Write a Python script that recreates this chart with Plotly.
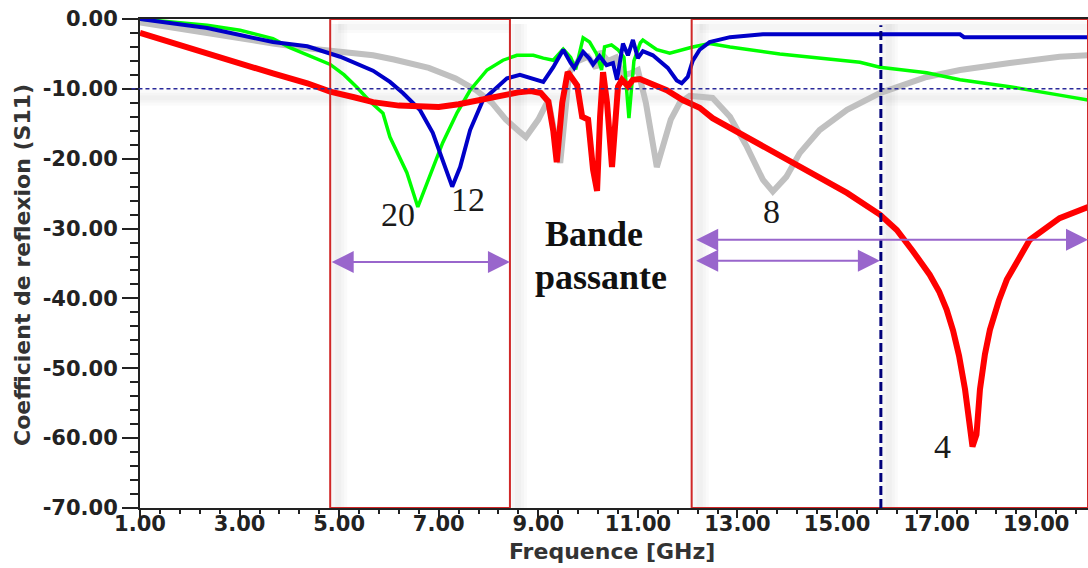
import plotly.graph_objects as go

# ---------------- data ----------------
red_f = [1.0, 1.67, 2.35, 3.01, 3.67, 4.36, 4.82, 5.3, 5.68, 6.2, 6.6, 7.0, 7.4, 7.8, 8.2, 8.6, 8.85,
         9.05, 9.2, 9.3, 9.37, 9.48, 9.59, 9.78, 9.88, 10.0, 10.1, 10.18, 10.24, 10.3, 10.38, 10.48,
         10.6, 10.68, 10.8, 10.9, 11.04, 11.3, 11.58, 11.9, 12.24, 12.5, 13.19, 13.85, 14.51, 15.2,
         15.86, 16.2, 16.52, 16.86, 17.05, 17.2, 17.33, 17.45, 17.57, 17.66, 17.72, 17.8, 17.87,
         17.97, 18.07, 18.25, 18.41, 18.87, 19.47, 20.04]
red_db = [-2.0, -3.5, -4.9, -6.3, -7.8, -9.2, -10.4, -11.2, -11.9, -12.4, -12.6, -12.6, -12.2, -11.6,
          -11.0, -10.5, -10.3, -10.6, -11.8, -16.0, -20.5, -12.0, -7.6, -9.5, -14.0, -14.4, -21.6,
          -24.6, -14.0, -7.6, -12.0, -21.2, -9.7, -8.7, -9.6, -8.7, -8.6, -9.4, -10.2, -11.6, -12.7,
          -14.2, -16.9, -19.7, -22.3, -24.9, -28.0, -30.2, -33.2, -36.6, -39.0, -41.6, -44.6, -48.2,
          -53.0, -59.0, -61.2, -59.5, -53.0, -48.0, -44.5, -40.3, -37.3, -31.6, -28.5, -26.9]

green_f = [1.0, 1.67, 2.35, 3.01, 3.67, 4.01, 4.62, 4.82, 5.1, 5.36, 5.62, 5.88, 6.02, 6.36, 6.58,
           6.82, 7.08, 7.37, 7.63, 7.97, 8.29, 8.57, 8.9, 9.1, 9.3, 9.5, 9.65, 9.75, 9.9, 10.03,
           10.17, 10.27, 10.33, 10.47, 10.6, 10.72, 10.82, 10.92, 11.05, 11.1, 11.38, 11.64, 11.9,
           12.1, 12.44, 12.85, 13.85, 14.86, 15.46, 15.86, 16.8, 17.47, 18.47, 19.47, 20.04]
green_db = [0.0, -0.4, -0.9, -1.6, -2.8, -4.1, -6.0, -6.5, -8.0, -9.8, -11.8, -13.5, -16.9, -22.0,
            -26.9, -22.6, -17.7, -13.4, -10.2, -7.3, -5.9, -5.2, -5.2, -5.6, -5.9, -4.3, -5.5, -7.2,
            -2.7, -3.3, -5.0, -7.3, -4.0, -3.7, -4.4, -5.5, -14.2, -6.0, -3.4, -3.0, -4.4, -4.9,
            -4.4, -4.0, -3.5, -4.0, -5.0, -5.8, -6.2, -6.9, -7.7, -8.7, -9.7, -10.9, -11.6]

blue_f = [1.0, 1.67, 2.35, 3.01, 3.67, 4.36, 5.02, 5.68, 6.02, 6.28, 6.62, 6.88, 7.08, 7.27, 7.43,
          7.63, 7.89, 8.17, 8.37, 8.63, 8.9, 9.1, 9.3, 9.5, 9.65, 9.72, 9.9, 10.03, 10.1, 10.23,
          10.37, 10.5, 10.58, 10.7, 10.8, 10.9, 11.0, 11.1, 11.3, 11.6, 11.78, 11.88, 12.0, 12.1,
          12.24, 12.44, 12.85, 13.51, 17.47, 17.55, 20.04]
blue_db = [0.0, -0.6, -1.3, -2.3, -3.3, -3.9, -5.4, -7.4, -9.0, -10.6, -13.0, -16.3, -20.2, -24.0,
           -21.2, -15.9, -11.6, -9.7, -8.5, -8.0, -8.5, -9.0, -6.9, -4.4, -6.3, -7.0, -4.7, -5.7,
           -6.5, -5.3, -6.6, -6.3, -8.7, -3.5, -5.2, -3.0, -5.6, -4.6, -5.2, -7.0, -8.8, -9.2, -8.3,
           -6.0, -4.4, -3.3, -2.6, -2.2, -2.2, -2.6, -2.6]

gray_f = [1.0, 1.67, 2.35, 3.01, 3.67, 4.36, 5.02, 5.68, 6.1, 6.8, 7.34, 7.75, 8.07, 8.35, 8.6,
          8.75, 9.0, 9.2, 9.44, 9.62, 9.8, 10.0, 10.16, 10.24, 10.4, 10.56, 10.7, 10.85, 11.0,
          11.16, 11.38, 11.66, 11.84, 12.04, 12.5, 12.85, 13.19, 13.51, 13.71, 13.98, 14.25, 14.65,
          15.2, 15.46, 15.86, 16.8, 17.47, 18.47, 19.47, 20.04]
gray_db = [-0.5, -1.3, -2.0, -2.7, -3.5, -4.2, -4.7, -5.2, -5.8, -7.0, -8.5, -10.2, -12.0, -14.4,
           -16.0, -16.9, -14.4, -11.6, -20.6, -7.7, -6.0, -5.4, -7.0, -4.7, -6.0, -5.5, -8.0, -7.8,
           -7.3, -12.0, -21.2, -14.4, -12.0, -11.0, -11.3, -14.0, -18.3, -23.0, -24.7, -22.6,
           -19.2, -15.9, -13.0, -12.0, -10.6, -8.3, -7.3, -6.3, -5.4, -5.2]

# axis ticks
x_tickvals = [1, 3, 5, 7, 9, 11, 13, 15, 17, 19]
x_ticktext = ["1.00", "3.00", "5.00", "7.00", "9.00", "11.00", "13.00", "15.00", "17.00", "19.00"]
y_tickvals = [0, -10, -20, -30, -40, -50, -60, -70]
y_ticktext = ["0.00", "-10.00", "-20.00", "-30.00", "-40.00", "-50.00", "-60.00", "-70.00"]

# zones (red rectangles), markers and labels
zone_f0 = [4.82, 12.08]
zone_f1 = [8.43, 20.04]
ref_level = -10.0
cutoff_f = 15.88

arrow_f0 = [4.82, 12.14, 12.14]
arrow_f1 = [8.43, 20.04, 15.86]
arrow_db = [-34.8, -31.6, -34.6]

num_labels = ["20", "12", "8", "4"]
num_f = [6.18, 7.59, 13.69, 17.12]
num_db = [-28.0, -25.9, -27.6, -61.2]

band_labels = ["Bande", "passante"]
band_f = [10.12, 10.26]
band_db = [-30.8, -36.9]

x_range = [1.0, 20.04]
y_range = [-70.0, 0.0]

# ---------------- figure ----------------
fig = go.Figure()
fig.add_trace(go.Scatter(x=gray_f, y=gray_db, mode="lines",
                         line=dict(color="#C0C0C0", width=6), name="8"))
fig.add_trace(go.Scatter(x=green_f, y=green_db, mode="lines",
                         line=dict(color="#00FF00", width=3.5), name="20"))
fig.add_trace(go.Scatter(x=blue_f, y=blue_db, mode="lines",
                         line=dict(color="#0000C8", width=4), name="12"))
fig.add_trace(go.Scatter(x=red_f, y=red_db, mode="lines",
                         line=dict(color="#FF0000", width=6), name="4"))

shadow = "rgba(110,110,110,0.035)"
px_f = (x_range[1] - x_range[0]) / 948.0
px_db = (y_range[1] - y_range[0]) / 489.0
# soft shadows next to the frame lines
for f in zone_f0 + [zone_f1[0], cutoff_f]:
    for w in (18, 12, 6):
        fig.add_shape(type="line", x0=f + 8 * px_f, x1=f + 8 * px_f, y0=y_range[0],
                      y1=y_range[1] - 5 * px_db, line=dict(color=shadow, width=w), layer="below")
for w in (16, 10, 5):
    fig.add_shape(type="line", x0=x_range[0], x1=x_range[1], y0=ref_level - 9 * px_db,
                  y1=ref_level - 9 * px_db, line=dict(color=shadow, width=w), layer="below")
for a, b in zip(zone_f0, zone_f1):
    for w in (12, 6):
        fig.add_shape(type="line", x0=a + 8 * px_f, x1=b, y0=y_range[1] - 8 * px_db,
                      y1=y_range[1] - 8 * px_db, line=dict(color=shadow, width=w), layer="below")

# red frames
for a, b in zip(zone_f0, zone_f1):
    fig.add_shape(type="rect", x0=a, x1=b, y0=y_range[0], y1=y_range[1],
                  line=dict(color="#D02828", width=2), fillcolor="rgba(0,0,0,0)")

# -10 dB reference line
fig.add_shape(type="line", xref="paper", x0=-0.009, x1=1.0, y0=ref_level, y1=ref_level,
              line=dict(color="#2A2A9A", width=1.5, dash="4px,3px"))
# cutoff vertical dashed line
fig.add_shape(type="line", x0=cutoff_f, x1=cutoff_f, y0=y_range[0], y1=-0.9,
              line=dict(color="#00007A", width=3, dash="9px,4px"))

annotations = []
for a, b, y in zip(arrow_f0, arrow_f1, arrow_db):
    annotations.append(dict(x=b, y=y, ax=a, ay=y, xref="x", yref="y", axref="x", ayref="y",
                            showarrow=True, arrowhead=2, startarrowhead=2, arrowside="end+start",
                            arrowwidth=2, arrowsize=2.2, startarrowsize=2.2,
                            arrowcolor="#9966CC", text=""))
for t, f, y in zip(num_labels, num_f, num_db):
    annotations.append(dict(x=f, y=y, text=t, showarrow=False, xanchor="center", yanchor="middle",
                            font=dict(family="Liberation Serif", size=34, color="#1A1A1A")))
for t, f, y in zip(band_labels, band_f, band_db):
    annotations.append(dict(x=f, y=y, text=t, showarrow=False, xanchor="center", yanchor="middle",
                            font=dict(family="Liberation Serif", size=36, color="#111111", weight="bold")))
annotations.append(dict(xref="paper", yref="paper", x=-(140 - 22) / 948.0, y=(508 - 265) / 489.0,
                        text="Coefficient de reflexion (S11)", textangle=-90, showarrow=False,
                        xanchor="center", yanchor="middle",
                        font=dict(family="DejaVu Sans", size=22, color="#333333", weight="bold")))
annotations.append(dict(xref="paper", yref="paper", x=(612 - 140) / 948.0, y=-(551 - 508) / 489.0,
                        text="Frequence [GHz]", showarrow=False, xanchor="center", yanchor="middle",
                        font=dict(family="DejaVu Sans", size=22, color="#333333", weight="bold")))

tickfont = dict(family="DejaVu Sans", size=21, color="#222222", weight="bold")
fig.update_layout(
    width=1088, height=568,
    margin=dict(l=140, r=0, t=19, b=60, autoexpand=False),
    paper_bgcolor="white", plot_bgcolor="white",
    showlegend=False,
    annotations=annotations,
    xaxis=dict(range=x_range, tickmode="array", tickvals=x_tickvals, ticktext=x_ticktext,
               ticks="outside", ticklen=8,
               tickwidth=2, tickcolor="#222222", showline=True, linecolor="#222222", linewidth=2,
               mirror=True, showgrid=False, zeroline=False, tickfont=tickfont,
               ticklabelstandoff=-12, automargin=False,
               minor=dict(tick0=1, dtick=0.4, ticks="outside", ticklen=4, tickwidth=1.5,
                          tickcolor="#222222", showgrid=False)),
    yaxis=dict(range=y_range, tickmode="array", tickvals=y_tickvals, ticktext=y_ticktext,
               ticks="outside", ticklen=16,
               tickwidth=2, tickcolor="#222222", showline=True, linecolor="#222222", linewidth=2,
               mirror=True, showgrid=False, zeroline=False, tickfont=tickfont, automargin=False,
               minor=dict(tick0=0, dtick=2, ticks="outside", ticklen=8, tickwidth=1.5,
                          tickcolor="#222222", showgrid=False)),
)

fig.write_html("out.html", config={"displayModeBar": False},
               post_script="document.body.style.margin='0';document.body.style.padding='0';")
